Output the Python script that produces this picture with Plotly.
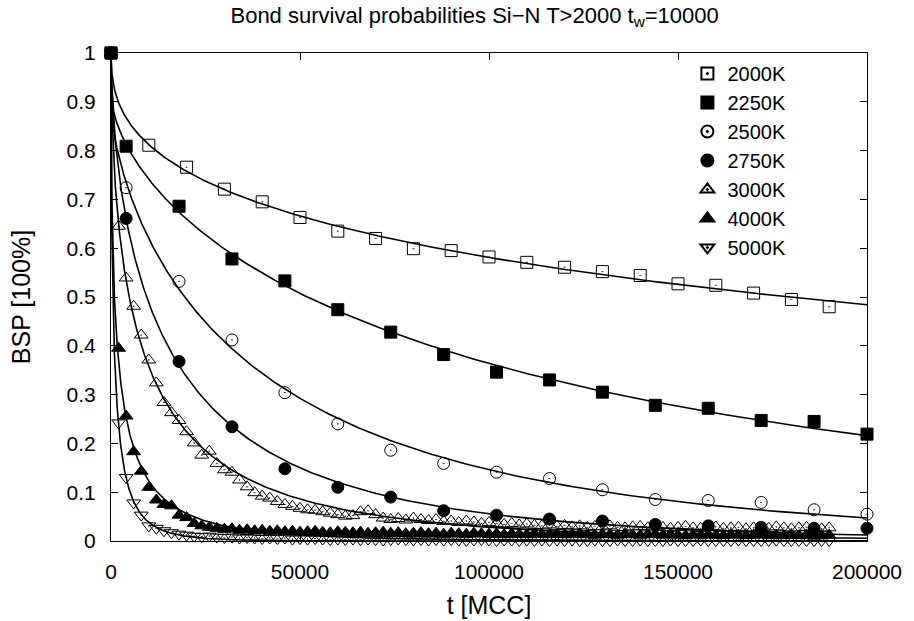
import numpy as np
import plotly.graph_objects as go

# ---------------------------------------------------------------------------
# Bond survival probabilities (Si-N bonds), waiting time t_w = 10000 MCC
# ---------------------------------------------------------------------------

# 2000K: sampled every 10000 MCC
t_2000 = [0, 10000, 20000, 30000, 40000, 50000, 60000, 70000, 80000, 90000,
          100000, 110000, 120000, 130000, 140000, 150000, 160000, 170000,
          180000, 190000]
bsp_2000 = [1.000, 0.811, 0.766, 0.721, 0.695, 0.663, 0.635, 0.620, 0.599, 0.595,
            0.582, 0.571, 0.561, 0.552, 0.544, 0.527, 0.524, 0.508, 0.495, 0.480]

# 2250K / 2500K / 2750K: sampled at 0, 4000, 18000, ... every 14000 MCC
t_mid = [0, 4000, 18000, 32000, 46000, 60000, 74000, 88000, 102000, 116000,
         130000, 144000, 158000, 172000, 186000, 200000]
bsp_2250 = [1.000, 0.809, 0.686, 0.578, 0.533, 0.474, 0.428, 0.382, 0.346, 0.330,
            0.305, 0.278, 0.272, 0.247, 0.245, 0.219]
bsp_2500 = [1.000, 0.724, 0.532, 0.412, 0.304, 0.240, 0.186, 0.159, 0.141, 0.128,
            0.105, 0.085, 0.083, 0.079, 0.064, 0.055]
bsp_2750 = [1.000, 0.661, 0.368, 0.234, 0.148, 0.110, 0.090, 0.062, 0.053, 0.045,
            0.041, 0.034, 0.031, 0.028, 0.026, 0.026]

# 3000K / 4000K / 5000K: sampled every 2000 MCC up to 190000
t_dense = list(range(0, 190001, 2000))
bsp_3000 = [1.000, 0.645, 0.539, 0.481, 0.422, 0.371, 0.324, 0.284, 0.263, 0.247,
            0.224, 0.201, 0.176, 0.184, 0.159, 0.146, 0.141, 0.125, 0.111, 0.099,
            0.092, 0.088, 0.081, 0.075, 0.071, 0.067, 0.064, 0.063, 0.060, 0.057,
            0.054, 0.051, 0.052, 0.060, 0.062, 0.054, 0.047, 0.044, 0.046, 0.043,
            0.047, 0.044, 0.042, 0.044, 0.040, 0.041, 0.038, 0.041, 0.039, 0.036,
            0.038, 0.036, 0.034, 0.036, 0.033, 0.035, 0.032, 0.031, 0.033, 0.030,
            0.032, 0.029, 0.031, 0.028, 0.030, 0.029, 0.031, 0.028, 0.027, 0.029,
            0.030, 0.027, 0.029, 0.028, 0.026, 0.028, 0.030, 0.027, 0.026, 0.028,
            0.029, 0.026, 0.027, 0.028, 0.025, 0.027, 0.028, 0.026, 0.029, 0.027,
            0.025, 0.027, 0.028, 0.026, 0.025, 0.027]
bsp_4000 = [1.000, 0.395, 0.256, 0.183, 0.143, 0.110, 0.084, 0.075, 0.072, 0.053,
            0.048, 0.036, 0.031, 0.028, 0.026, 0.024, 0.025, 0.022, 0.023, 0.021,
            0.022, 0.020, 0.021, 0.019, 0.020, 0.018, 0.019, 0.020, 0.018, 0.017,
            0.019, 0.018, 0.017, 0.018, 0.016, 0.017, 0.018, 0.016, 0.017, 0.015,
            0.016, 0.017, 0.015, 0.016, 0.014, 0.016, 0.015, 0.014, 0.016, 0.015,
            0.014, 0.015, 0.013, 0.015, 0.014, 0.013, 0.015, 0.014, 0.013, 0.014,
            0.013, 0.014, 0.015, 0.013, 0.012, 0.014, 0.013, 0.012, 0.014, 0.013,
            0.012, 0.013, 0.014, 0.012, 0.013, 0.012, 0.011, 0.013, 0.012, 0.013,
            0.012, 0.011, 0.013, 0.012, 0.011, 0.012, 0.013, 0.011, 0.012, 0.011,
            0.012, 0.011, 0.012, 0.010, 0.011, 0.012]
bsp_5000 = [1.000, 0.242, 0.130, 0.078, 0.053, 0.031, 0.026, 0.021, 0.017, 0.014,
            0.012, 0.010, 0.009, 0.010, 0.008, 0.007, 0.008, 0.006, 0.007, 0.006,
            0.005, 0.006, 0.005, 0.006, 0.004, 0.005, 0.004, 0.005, 0.004, 0.003,
            0.004, 0.003, 0.004, 0.003, 0.004, 0.003, 0.002, 0.003, 0.004, 0.003,
            0.002, 0.003, 0.002, 0.003, 0.002, 0.003, 0.002, 0.001, 0.002, 0.003,
            0.002, 0.001, 0.002, 0.002, 0.001, 0.002, 0.001, 0.002, 0.001, 0.002,
            0.001, 0.002, 0.001, 0.001, 0.002, 0.001, 0.001, 0.002, 0.001, 0.001,
            0.002, 0.001, 0.001, 0.001, 0.002, 0.001, 0.001, 0.001, 0.002, 0.001,
            0.001, 0.001, 0.001, 0.002, 0.001, 0.001, 0.001, 0.001, 0.002, 0.001,
            0.001, 0.001, 0.001, 0.001, 0.001, 0.001]

labels = ["2000K", "2250K", "2500K", "2750K", "3000K", "4000K", "5000K"]
times = [t_2000, t_mid, t_mid, t_mid, t_dense, t_dense, t_dense]
values = [bsp_2000, bsp_2250, bsp_2500, bsp_2750, bsp_3000, bsp_4000, bsp_5000]
symbols = ["square-open-dot", "square", "circle-open-dot", "circle",
           "triangle-up-open-dot", "triangle-up", "triangle-down-open-dot"]

X_TICKS = [0, 50000, 100000, 150000, 200000]
Y_TICKS = [0, 0.1, 0.2, 0.3, 0.4, 0.5, 0.6, 0.7, 0.8, 0.9, 1]
Y_TICK_TEXT = ["0", "0.1", "0.2", "0.3", "0.4", "0.5", "0.6", "0.7", "0.8", "0.9", "1"]

TAU_FAST = 200.0  # fast initial relaxation (MCC)


def fit_kww(t, y):
    """Least-squares fit of A*exp(-(t/tau)^beta) + (1-A)*exp(-t/TAU_FAST)."""
    t = np.asarray(t, float)
    y = np.asarray(y, float)
    m = t > 0
    t, y = t[m], y[m]
    betas = np.linspace(0.15, 1.2, 106)
    taus = np.geomspace(50.0, 5e6, 260)
    B, T = np.meshgrid(betas, taus, indexing="ij")
    core = np.exp(-(t[None, None, :] / T[..., None]) ** B[..., None])
    fast = np.exp(-t / TAU_FAST)
    d = core - fast
    r = y - fast
    amp = (d * r).sum(-1) / np.maximum((d * d).sum(-1), 1e-12)
    amp = np.clip(amp, 0.3, 1.0)
    pred = amp[..., None] * d + fast
    err = ((pred - y) ** 2).sum(-1)
    i, j = np.unravel_index(np.argmin(err), err.shape)
    return amp[i, j], T[i, j], B[i, j]


def kww(t, a, tau, beta):
    return a * np.exp(-(t / tau) ** beta) + (1 - a) * np.exp(-t / TAU_FAST)


t_line = np.concatenate([[0.0], np.geomspace(1.0, 200000.0, 700)])

fig = go.Figure()

# fitted curves
for t, y in zip(times, values):
    a, tau, beta = fit_kww(t, y)
    fig.add_trace(go.Scatter(
        x=t_line, y=kww(t_line, a, tau, beta), mode="lines",
        line=dict(color="black", width=1.6), showlegend=False,
        hoverinfo="skip"))

# simulation data
for name, t, y, sym in zip(labels, times, values, symbols):
    fig.add_trace(go.Scatter(
        x=t, y=y, mode="markers", name=name, cliponaxis=False,
        marker=dict(symbol=sym, size=12, color="black",
                    line=dict(color="black", width=1))))

FONT = "Liberation Sans, Arial, Helvetica, sans-serif"

fig.update_layout(
    width=914, height=621,
    margin=dict(l=111, r=47, t=53, b=80, autoexpand=False),
    paper_bgcolor="white", plot_bgcolor="white",
    font=dict(family=FONT, size=21, color="black"),
    title=dict(text="Bond survival probabilities Si\u2212N T>2000 t<sub>w</sub>=10000",
               x=0.481, xref="paper", xanchor="center",
               y=1 - 15 / 621, yref="container", yanchor="middle",
               font=dict(family=FONT, size=22, color="black")),
    showlegend=True,
    legend=dict(x=0.9, xanchor="right", y=0.998, yanchor="top",
                bgcolor="rgba(0,0,0,0)", borderwidth=0,
                font=dict(family=FONT, size=20, color="black"),
                tracegroupgap=0, itemsizing="constant"),
)

fig.update_xaxes(
    range=[0, 200000], tickvals=X_TICKS, ticktext=[str(v) for v in X_TICKS],
    ticks="inside", ticklen=7, tickwidth=1, tickcolor="black",
    showline=True, linecolor="black", linewidth=1, mirror="ticks",
    showgrid=False, zeroline=False, ticklabelstandoff=12, automargin=False,
    title=dict(text="t [MCC]", standoff=14))
fig.update_yaxes(
    range=[0, 1], tickvals=Y_TICKS, ticktext=Y_TICK_TEXT,
    ticks="inside", ticklen=7, tickwidth=1, tickcolor="black",
    showline=True, linecolor="black", linewidth=1, mirror="ticks",
    showgrid=False, zeroline=False, ticklabelstandoff=10, automargin=False,
    title=dict(text="BSP [100%]", standoff=28))

fig.write_html("out.html")
